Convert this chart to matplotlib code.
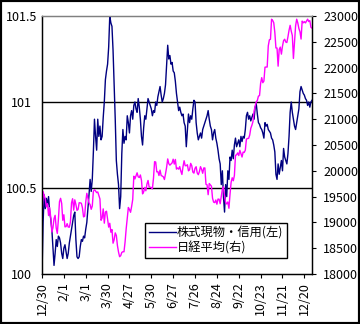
import numpy as np
import matplotlib
matplotlib.use("Agg")
import matplotlib.pyplot as plt
from matplotlib.patches import Rectangle

plt.rcParams['font.family'] = ['Noto Sans CJK JP', 'DejaVu Sans']

tick_labels = ["12/30", "2/1", "3/1", "3/30", "4/27", "5/30", "6/27",
               "7/26", "8/24", "9/22", "10/23", "11/21", "12/20"]

series_left_name = "株式現物・信用(左)"
series_right_name = "日経平均(右)"

stock_ratio = [
    100.00, 100.30, 100.46, 100.38, 100.44, 100.40, 100.45, 100.36, 100.32, 100.26,
    100.15, 100.05, 100.12, 100.20, 100.16, 100.22, 100.21, 100.18, 100.12, 100.09,
    100.15, 100.17, 100.13, 100.09, 100.12, 100.18, 100.22, 100.26, 100.30, 100.34,
    100.36, 100.20, 100.10, 100.09, 100.10, 100.16, 100.20, 100.19, 100.22, 100.21,
    100.26, 100.30, 100.38, 100.46, 100.55, 100.48, 100.55, 100.71, 100.90, 100.80,
    100.72, 100.90, 100.80, 100.86, 100.78, 100.80, 100.91, 101.00, 101.13, 101.18,
    101.22, 101.32, 101.50, 101.46, 101.44, 101.30, 101.10, 100.90, 100.66, 100.58,
    100.52, 100.38, 100.45, 100.70, 100.84, 100.76, 100.80, 100.78, 100.92, 100.88,
    100.82, 100.92, 100.95, 100.90, 100.98, 101.00, 100.96, 100.94, 101.02, 100.97,
    100.90, 100.80, 100.75, 100.85, 100.92, 100.90, 100.96, 101.02, 101.00, 100.98,
    100.96, 100.92, 100.95, 100.94, 101.00, 100.98, 101.03, 101.06, 101.09, 101.04,
    101.00, 101.02, 101.05, 101.10, 101.22, 101.33, 101.25, 101.27, 101.22, 101.23,
    101.18, 101.17, 101.12, 101.05, 101.00, 100.95, 100.97, 100.94, 100.92, 100.93,
    100.88, 100.86, 100.74, 100.84, 100.93, 100.88, 100.92, 100.90, 100.96, 101.01,
    101.00, 100.88, 100.82, 100.78, 100.80, 100.82, 100.79, 100.84, 100.86, 100.88,
    100.90, 100.92, 100.95, 100.90, 100.86, 100.84, 100.78, 100.82, 100.84, 100.79,
    100.76, 100.72, 100.67, 100.64, 100.52, 100.60, 100.45, 100.36, 100.52, 100.45,
    100.60, 100.55, 100.68, 100.66, 100.72, 100.67, 100.75, 100.79, 100.74, 100.76,
    100.78, 100.74, 100.80, 100.77, 100.80, 100.79, 100.84, 100.92, 100.94, 100.90,
    100.92, 100.89, 100.91, 100.93, 100.90, 100.97, 100.99, 100.93, 100.88, 100.87,
    100.85, 100.84, 100.82, 100.79, 100.88, 100.86, 100.87, 100.84, 100.83, 100.82,
    100.79, 100.78, 100.75, 100.71, 100.58, 100.55, 100.64, 100.58, 100.62, 100.66,
    100.60, 100.73, 100.68, 100.66, 100.64, 100.70, 100.80, 100.94, 101.00, 100.94,
    100.90, 100.86, 100.84, 100.88, 100.92, 100.96, 101.06, 101.09, 101.07, 101.05,
    101.04, 101.02, 101.01, 100.98, 101.00, 100.97, 101.00, 101.01,
]

nikkei = [
    19114,
    19594, 19520, 19454, 19301, 19364, 19134, 19287, 19095, 18813, 18894,
    19072, 19137, 18891, 18787, 19057, 19402, 19467, 19368, 19041,
    19148, 18914, 18918, 18976, 18910, 18907, 19007, 19378, 19459, 19238,
    19437, 19347, 19234, 19251, 19381, 19379, 19371, 19283, 19107, 19118,
    19393, 19564, 19469, 19379, 19344, 19254, 19318, 19604, 19633, 19609,
    19577, 19590, 19521, 19455, 19041, 19085, 19262, 18985, 19202, 19217, 19063, 18909,
    18983, 18810, 18861, 18597, 18664, 18797, 18747, 18552, 18426, 18335,
    18355, 18418, 18432, 18430, 18620, 18875, 19079, 19289, 19251, 19196,
    19310, 19445, 19895, 19843, 19900, 19961, 19883, 19869, 19919, 19814,
    19553, 19590, 19678, 19613, 19742, 19813, 19686, 19682, 19677, 19650,
    19860, 20177, 20170, 19979, 19984, 19909, 20013, 19908, 19898, 19883,
    19831, 19943, 20067, 20230, 20138, 20110, 20132, 20153, 20225, 20130, 20220, 20033,
    20055, 20032, 20081, 19994, 19929, 20080, 20195, 20098, 20099, 20118,
    19999, 20020, 20144, 20099, 19975, 19955, 20050, 20079, 19959, 19925,
    19985, 20080, 20029, 19952, 20055, 20055, 19738, 19729, 19537, 19753,
    19729, 19702, 19470, 19393, 19383, 19434, 19353, 19452, 19449, 19362, 19506, 19646,
    19691, 19508, 19385, 19357, 19396, 19274, 19545, 19776, 19865, 19807,
    19909, 20299, 20310, 20347, 20296, 20397, 20330, 20267, 20363, 20356,
    20400, 20614, 20626, 20628, 20691, 20823, 20881, 20954, 21155, 21255,
    21336, 21363, 21448, 21457, 21696, 21805, 21707, 21739, 22008, 22011, 22011,
    22420, 22539, 22548, 22937, 22914, 22869, 22681, 22381, 22380, 22028,
    22351, 22397, 22261, 22416, 22523, 22550, 22495, 22486, 22597, 22724,
    22819, 22707, 22622, 22177, 22498, 22811, 22938, 22866, 22758, 22694,
    22553, 22901, 22868, 22891, 22866, 22902, 22939, 22892, 22911, 22783, 22765,
]

left_ticks = [100, 100.5, 101, 101.5]
left_tick_labels = ["100", "100.5", "101", "101.5"]
right_ticks = list(range(18000, 23001, 500))

n = len(nikkei)
x = np.arange(n)
tick_step = 20

W, H = 360, 324
fig = plt.figure(figsize=(W / 100, H / 100), dpi=100)
fig.patch.set_facecolor('white')
L, R, T, B = 42, 312, 16, 274
ax = fig.add_axes([L / W, 1 - B / H, (R - L) / W, (B - T) / H])
ax2 = ax.twinx()

navy = '#000080'
mag = '#FF00FF'

for y in [100.5, 101]:
    ax.axhline(y, color='black', lw=1.0, zorder=1)

ln1, = ax.plot(x, stock_ratio, color=navy, lw=1.0, zorder=3)
ln2, = ax2.plot(x, nikkei, color=mag, lw=1.0, zorder=2)

ax.set_xlim(0, n - 1)
ax.set_ylim(left_ticks[0], left_ticks[-1])
ax2.set_ylim(right_ticks[0], right_ticks[-1])

ax.set_yticks(left_ticks)
ax.set_yticklabels(left_tick_labels)
ax.tick_params(axis='y', length=0, pad=15, labelsize=9)
for lbl in ax.get_yticklabels():
    lbl.set_horizontalalignment('center')

ax2.set_yticks(right_ticks)
ax2.set_yticklabels([str(v) for v in right_ticks])
ax2.tick_params(axis='y', direction='out', length=3, width=0.8, pad=5, labelsize=9)

ax.set_xticks(np.arange(0, n, tick_step)[:len(tick_labels)])
ax.set_xticklabels(tick_labels, rotation=90)
ax.tick_params(axis='x', direction='out', length=3, width=0.8, pad=3, labelsize=9)

for a in (ax, ax2):
    for s in ['left', 'right', 'bottom']:
        a.spines[s].set_color('black')
        a.spines[s].set_linewidth(0.9)
    a.spines['top'].set_color('#808080')
    a.spines['top'].set_linewidth(0.9)

leg = ax2.legend([ln1, ln2], [series_left_name, series_right_name],
                 loc='upper left', bbox_to_anchor=(145 / W, 1 - 223 / H),
                 bbox_transform=fig.transFigure, borderaxespad=0,
                 fontsize=8.8, frameon=True, fancybox=False, framealpha=1,
                 edgecolor='black', handlelength=2.2, handletextpad=0.1,
                 borderpad=0.3, labelspacing=0.15)
leg.get_frame().set_linewidth(1.0)

fig.patches.append(Rectangle((0, 0), 1, 1, transform=fig.transFigure,
                             fill=False, edgecolor='black', lw=3))

fig.savefig('out.png', dpi=100)
